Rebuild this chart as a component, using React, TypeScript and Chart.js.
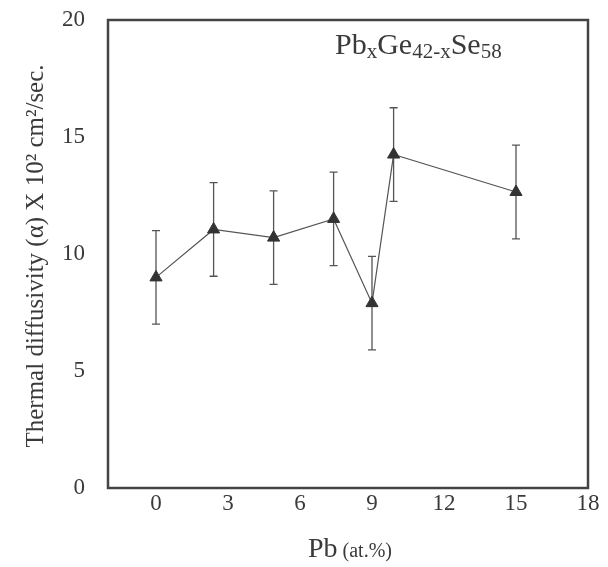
import { useEffect, useRef } from "react";
import { Chart, registerables } from "chart.js";

Chart.register(...registerables);

// ---- data ----
const pbContent = [0, 2.4, 4.9, 7.4, 9.0, 9.9, 15.0];
const diffusivity = [9.0, 11.05, 10.7, 11.5, 7.9, 14.25, 12.65];
const errorUp = [2, 2, 2, 2, 2, 2, 2];
const errorDown = [2, 2, 2, 2, 2, 2, 2];
const xTicks = [0, 3, 6, 9, 12, 15, 18];
const yTicks = [0, 5, 10, 15, 20];

const SERIF = "'Liberation Serif', 'DejaVu Serif', serif";
const INK = "#3a3a3a";

const errorBarPlugin = {
  id: "errorBars",
  beforeDatasetsDraw(chart: any) {
    const { ctx, scales } = chart;
    const xs = scales.x;
    const ys = scales.y;
    ctx.save();
    ctx.strokeStyle = "#555";
    ctx.lineWidth = 1.3;
    for (let i = 0; i < pbContent.length; i++) {
      const px = xs.getPixelForValue(pbContent[i]);
      const top = ys.getPixelForValue(diffusivity[i] + errorUp[i]);
      const bot = ys.getPixelForValue(diffusivity[i] - errorDown[i]);
      ctx.beginPath();
      ctx.moveTo(px, top);
      ctx.lineTo(px, bot);
      ctx.moveTo(px - 4, top);
      ctx.lineTo(px + 4, top);
      ctx.moveTo(px - 4, bot);
      ctx.lineTo(px + 4, bot);
      ctx.stroke();
    }
    ctx.restore();
  },
};

function drawRuns(ctx: CanvasRenderingContext2D, x: number, y: number, runs: [string, number, number][]) {
  let cx = x;
  for (const [t, size, dy] of runs) {
    ctx.font = `${size}px ${SERIF}`;
    ctx.fillText(t, cx, y + dy);
    cx += ctx.measureText(t).width;
  }
}

const framePlugin = {
  id: "frameAndTitles",
  afterDraw(chart: any) {
    const { ctx, chartArea } = chart;
    const { left, right, top, bottom } = chartArea;
    ctx.save();
    // frame
    ctx.strokeStyle = "#444";
    ctx.lineWidth = 2.5;
    ctx.strokeRect(left, top, right - left, bottom - top);

    ctx.fillStyle = INK;
    ctx.textAlign = "left";
    ctx.textBaseline = "alphabetic";
    // formula label inside plot
    drawRuns(ctx, 335, 54, [
      ["Pb", 30, 0],
      ["x", 21, 4],
      ["Ge", 30, 0],
      ["42-x", 21, 4],
      ["Se", 30, 0],
      ["58", 21, 4],
    ]);

    // x-axis title
    ctx.font = `28px ${SERIF}`;
    const w1 = ctx.measureText("Pb").width;
    ctx.font = `20px ${SERIF}`;
    const w2 = ctx.measureText(" (at.%)").width;
    const sx = 350 - (w1 + w2) / 2;
    drawRuns(ctx, sx, 557, [
      ["Pb", 28, 0],
      [" (at.%)", 20, 0],
    ]);

    // y-axis title
    ctx.translate(43, 256);
    ctx.rotate(-Math.PI / 2);
    ctx.font = `25px ${SERIF}`;
    ctx.textAlign = "center";
    ctx.fillText("Thermal diffusivity (\u03b1) X 10\u00b2 cm\u00b2/sec.", 0, 0);
    ctx.restore();
  },
};

export default function App() {
  const ref = useRef<HTMLCanvasElement | null>(null);

  useEffect(() => {
    document.body.style.margin = "0";
    const canvas = ref.current;
    if (!canvas) return;
    const chart = new Chart(canvas, {
      type: "line",
      data: {
        datasets: [
          {
            data: pbContent.map((x, i) => ({ x, y: diffusivity[i] })),
            borderColor: "#555",
            borderWidth: 1.2,
            pointStyle: "triangle",
            pointRadius: 7,
            pointBackgroundColor: "#333",
            pointBorderColor: "#333",
            pointBorderWidth: 1,
            tension: 0,
            fill: false,
          },
        ],
      },
      options: {
        animation: false,
        responsive: false,
        maintainAspectRatio: false,
        layout: { padding: { left: 0, right: 20, top: 20, bottom: 0 } },
        plugins: {
          legend: { display: false },
          tooltip: { enabled: false },
          title: { display: false },
        },
        scales: {
          x: {
            type: "linear",
            min: -2,
            max: 18,
            grid: { display: false, drawTicks: false },
            border: { display: false },
            afterBuildTicks: (scale: any) => {
              scale.ticks = xTicks.map((v) => ({ value: v }));
            },
            afterFit: (scale: any) => {
              scale.height = 79;
              scale.paddingLeft = 0;
              scale.paddingRight = 0;
            },
            ticks: {
              color: INK,
              font: { family: SERIF, size: 23 },
              padding: 2,
              maxRotation: 0,
              autoSkip: false,
            },
          },
          y: {
            type: "linear",
            min: 0,
            max: 20,
            grid: { display: false, drawTicks: false },
            border: { display: false },
            afterBuildTicks: (scale: any) => {
              scale.ticks = yTicks.map((v) => ({ value: v }));
            },
            afterFit: (scale: any) => {
              scale.width = 108;
              scale.paddingTop = 0;
              scale.paddingBottom = 0;
            },
            ticks: {
              color: INK,
              font: { family: SERIF, size: 23 },
              padding: 23,
            },
          },
        },
      },
      plugins: [errorBarPlugin, framePlugin],
    });
    return () => chart.destroy();
  }, []);

  return (
    <div style={{ width: 608, height: 567 }}>
      <canvas ref={ref} width={608} height={567} style={{ display: "block" }} />
    </div>
  );
}
